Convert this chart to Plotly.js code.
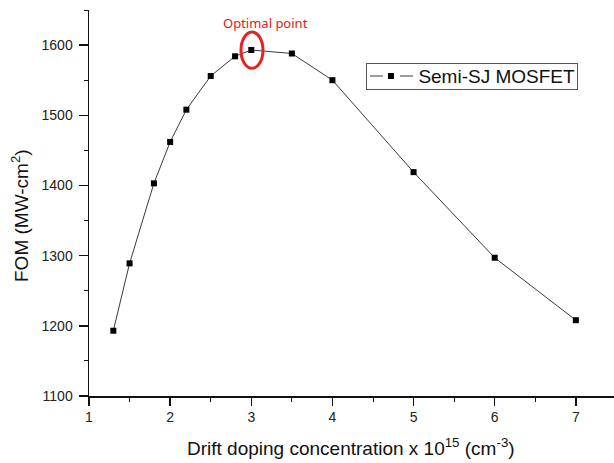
<!DOCTYPE html>
<html><head><meta charset="utf-8">
<script src="https://cdn.plot.ly/plotly-3.0.1.min.js"></script>
<style>html,body{margin:0;padding:0;background:#fff}#chart{width:614px;height:463px}</style>
</head><body><div id="chart"></div>
<script>
const seriesName = "Semi-SJ MOSFET";
const doping = [1.3, 1.5, 1.8, 2.0, 2.2, 2.5, 2.8, 3.0, 3.5, 4.0, 5.0, 6.0, 7.0];
const fom = [1193, 1289, 1403, 1462, 1508, 1556, 1584, 1593, 1588, 1550, 1419, 1297, 1208];
const xTicks = [1, 2, 3, 4, 5, 6, 7];
const yTicks = [1100, 1200, 1300, 1400, 1500, 1600];
const optimalX = 3.0, optimalY = 1593;

const FONT = 'Liberation Sans, Arial, sans-serif';
const trace = {
  x: doping, y: fom, name: seriesName, type: 'scatter', mode: 'lines+markers',
  line: {color: '#3a3a3a', width: 1},
  marker: {symbol: 'square', size: 6, color: '#000'},
  showlegend: false
};
const axFont = {family: FONT, size: 14, color: '#222'};
// legend geometry helpers (paper coords from pixel positions)
const px = v => (v - 89) / 525, py = v => (396 - v) / 386;
const layout = {
  width: 614, height: 463,
  margin: {l: 89, r: 0, t: 10, b: 67},
  paper_bgcolor: '#fff', plot_bgcolor: '#fff',
  showlegend: false,
  xaxis: {range: [1, 7.47], tickvals: xTicks, ticktext: xTicks.map(String),
    showgrid: false, zeroline: false, showline: true, linecolor: '#111', linewidth: 1.5,
    ticks: 'outside', ticklen: 8, tickwidth: 1.5, tickcolor: '#111',
    minor: {dtick: 0.5, ticks: 'outside', ticklen: 4, tickwidth: 1, tickcolor: '#111', showgrid: false},
    tickfont: axFont},
  yaxis: {range: [1100, 1650], tickvals: yTicks, ticktext: yTicks.map(String),
    showgrid: false, zeroline: false, showline: true, linecolor: '#111', linewidth: 1.5,
    ticks: 'outside', ticklen: 9, tickwidth: 1.5, tickcolor: '#111',
    ticklabelstandoff: 3,
    minor: {dtick: 50, ticks: 'outside', ticklen: 4, tickwidth: 1, tickcolor: '#111', showgrid: false},
    tickfont: axFont},
  annotations: [
    {text: 'FOM (MW-cm<sup>2</sup>)', xref: 'paper', yref: 'paper', x: px(20), y: py(216),
     textangle: -90, showarrow: false, xanchor: 'center', yanchor: 'middle',
     font: {family: FONT, size: 19, color: '#111'}},
    {text: 'Drift doping concentration x 10<sup>15</sup> (cm<sup>-3</sup>)', xref: 'paper', yref: 'paper',
     x: px(351), y: py(447), showarrow: false, xanchor: 'center', yanchor: 'middle',
     font: {family: FONT, size: 19, color: '#111'}},
    {text: 'Optimal point', xref: 'x', yref: 'y', x: optimalX + 0.17, y: 1631,
     showarrow: false, xanchor: 'center', yanchor: 'middle',
     font: {family: 'Noto Sans, sans-serif', size: 13, color: '#e02020'}},
    {text: seriesName, xref: 'paper', yref: 'paper', x: px(366), y: py(63),
     xanchor: 'left', yanchor: 'top', showarrow: false, align: 'right',
     width: 206, height: 21, borderpad: 2, borderwidth: 1, bordercolor: '#555',
     font: {family: FONT, size: 19, color: '#111'}}
  ],
  shapes: [
    {type: 'circle', xref: 'x', yref: 'y', x0: optimalX - 0.127, x1: optimalX + 0.144,
     y0: optimalY - 26, y1: optimalY + 25.5, line: {color: '#e8221f', width: 3}},
    {type: 'line', xref: 'paper', yref: 'paper', x0: px(370), x1: px(383), y0: py(76), y1: py(76),
     line: {color: '#3a3a3a', width: 1}},
    {type: 'line', xref: 'paper', yref: 'paper', x0: px(400), x1: px(413), y0: py(76), y1: py(76),
     line: {color: '#3a3a3a', width: 1}},
    {type: 'rect', xref: 'paper', yref: 'paper', x0: px(388), x1: px(394), y0: py(79), y1: py(73),
     fillcolor: '#000', line: {width: 0}}
  ]
};
Plotly.newPlot('chart', [trace], layout, {displayModeBar: false, staticPlot: true});
</script></body></html>
